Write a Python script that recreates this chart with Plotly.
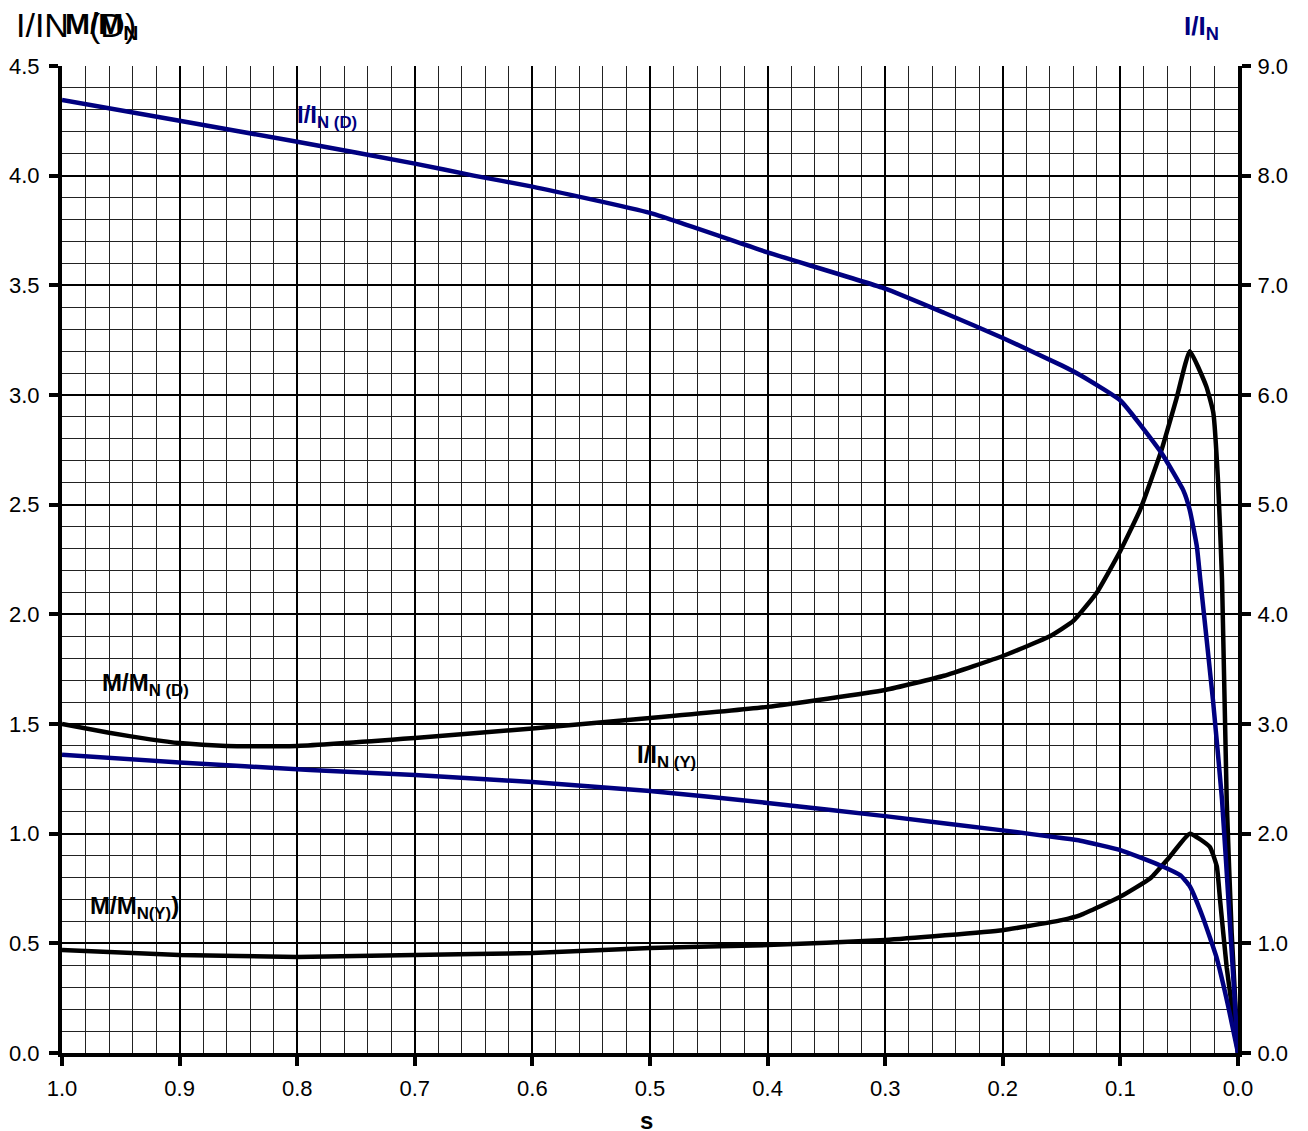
import plotly.graph_objects as go

# ---- data ----
s_md = [1.0, 0.96, 0.925, 0.9, 0.86, 0.8, 0.7, 0.6, 0.5, 0.4, 0.3, 0.25, 0.2, 0.16, 0.14, 0.12, 0.1, 0.083, 0.065, 0.052, 0.041, 0.027, 0.021, 0.017, 0.0136, 0.0096, 0.0054, 0.0]
m_md = [1.50, 1.46, 1.43, 1.413, 1.40, 1.40, 1.436, 1.48, 1.527, 1.578, 1.655, 1.72, 1.81, 1.90, 1.97, 2.10, 2.29, 2.48, 2.75, 2.99, 3.20, 3.04, 2.92, 2.61, 2.16, 1.15, 0.55, 0.0]

s_my = [1.0, 0.9, 0.8, 0.7, 0.6, 0.5, 0.4, 0.3, 0.2, 0.15, 0.134, 0.1, 0.0745, 0.058, 0.041, 0.024, 0.018, 0.0153, 0.0096, 0.0]
m_my = [0.47, 0.447, 0.438, 0.447, 0.456, 0.479, 0.492, 0.515, 0.56, 0.606, 0.629, 0.713, 0.797, 0.895, 1.0, 0.94, 0.85, 0.70, 0.39, 0.0]

s_id = [1.0, 0.9, 0.8, 0.7, 0.65, 0.6, 0.5, 0.4, 0.3, 0.25, 0.2, 0.15, 0.134, 0.1, 0.065, 0.0465, 0.041, 0.035, 0.032, 0.0213, 0.0136, 0.007, 0.0]
i_id = [8.69, 8.50, 8.31, 8.11, 8.0, 7.90, 7.66, 7.30, 6.97, 6.75, 6.52, 6.27, 6.18, 5.95, 5.47, 5.13, 4.95, 4.62, 4.31, 3.22, 2.31, 1.2, 0.0]

s_iy = [1.0, 0.9, 0.789, 0.7, 0.6, 0.5, 0.4, 0.3, 0.2, 0.15, 0.134, 0.1, 0.066, 0.049, 0.041, 0.030, 0.0185, 0.0082, 0.0]
i_iy = [2.72, 2.65, 2.58, 2.535, 2.47, 2.39, 2.28, 2.16, 2.03, 1.96, 1.936, 1.85, 1.71, 1.62, 1.52, 1.24, 0.88, 0.42, 0.0]

x_ticks = [1.0, 0.9, 0.8, 0.7, 0.6, 0.5, 0.4, 0.3, 0.2, 0.1, 0.0]

NAVY = "#000080"
FONT = "Liberation Sans, Arial, sans-serif"
LW = 4.5

fig = go.Figure()
line_k = dict(color="black", width=LW, shape="spline", smoothing=0.4)
line_b = dict(color=NAVY, width=LW, shape="spline", smoothing=0.4)
fig.add_trace(go.Scatter(x=s_md, y=m_md, mode="lines", line=line_k, yaxis="y", showlegend=False))
fig.add_trace(go.Scatter(x=s_my, y=m_my, mode="lines", line=line_k, yaxis="y", showlegend=False))
fig.add_trace(go.Scatter(x=s_id, y=i_id, mode="lines", line=line_b, yaxis="y2", showlegend=False))
fig.add_trace(go.Scatter(x=s_iy, y=i_iy, mode="lines", line=line_b, yaxis="y2", showlegend=False))

fig.update_layout(
    width=1308, height=1131,
    margin=dict(l=54, r=78, t=58, b=86),
    paper_bgcolor="white", plot_bgcolor="white",
    font=dict(family=FONT, color="black", size=22),
    xaxis=dict(range=[1.0, 0.0], tickvals=x_ticks, tickformat=".1f", automargin=False,
               showgrid=True, gridcolor="black", gridwidth=2,
               minor=dict(dtick=0.02, showgrid=True, gridcolor="#222222", gridwidth=1, ticks=""),
               showline=True, linecolor="black", linewidth=4, mirror=False,
               ticks="outside", ticklen=9, tickwidth=4, tickcolor="black",
               ticklabelstandoff=4, zeroline=False),
    yaxis=dict(range=[0, 4.5], dtick=0.5, tickformat=".1f", automargin=False,
               showgrid=True, gridcolor="black", gridwidth=2,
               minor=dict(dtick=0.1, showgrid=True, gridcolor="#222222", gridwidth=1, ticks=""),
               showline=True, linecolor="black", linewidth=4,
               ticks="outside", ticklen=9, tickwidth=4, tickcolor="black",
               ticklabelstandoff=5, zeroline=False),
    yaxis2=dict(range=[0, 9.0], dtick=1.0, tickformat=".1f", overlaying="y", side="right", automargin=False,
                showgrid=False, showline=True, linecolor="black", linewidth=4,
                ticks="outside", ticklen=9, tickwidth=4, tickcolor="black",
                ticklabelstandoff=2, zeroline=False),
)

# x-axis title
fig.add_annotation(xref="paper", yref="paper", x=0.497, y=-0.068, xanchor="center", yanchor="middle",
                   text="<b>s</b>", showarrow=False, font=dict(size=24, color="black"))

# top-left overlapping axis titles
fig.add_annotation(xref="paper", yref="paper", x=-0.0408, y=1.0415, xanchor="left", yanchor="middle",
                   text="I/IN", showarrow=False, font=dict(size=34, color="black"))
fig.add_annotation(xref="paper", yref="paper", x=0.0009, y=1.0415, xanchor="left", yanchor="middle",
                   text="<b>M/M<sub>N</sub></b>", showarrow=False, font=dict(size=30, color="black"))
fig.add_annotation(xref="paper", yref="paper", x=0.0213, y=1.0415, xanchor="left", yanchor="middle",
                   text="(D)", showarrow=False, font=dict(size=34, color="black"))
# top-right axis title
fig.add_annotation(xref="paper", yref="paper", x=0.969, y=1.0395, xanchor="center", yanchor="middle",
                   text="<b>I/I<sub>N</sub></b>", showarrow=False, font=dict(size=26, color=NAVY))

# curve labels
fig.add_annotation(x=0.802, y=4.27, xref="x", yref="y", xanchor="left", yanchor="middle",
                   text="<b>I/I<sub>N (D)</sub></b>", showarrow=False, font=dict(size=24, color=NAVY))
fig.add_annotation(x=0.968, y=1.68, xref="x", yref="y", xanchor="left", yanchor="middle",
                   text="<b>M/M<sub>N (D)</sub></b>", showarrow=False, font=dict(size=24, color="black"))
fig.add_annotation(x=0.513, y=1.35, xref="x", yref="y", xanchor="left", yanchor="middle",
                   text="<b>I/I<sub>N (Y)</sub></b>", showarrow=False, font=dict(size=24, color="black"))
fig.add_annotation(x=0.978, y=0.665, xref="x", yref="y", xanchor="left", yanchor="middle",
                   text="<b>M/M<sub>N(Y)</sub>)</b>", showarrow=False, font=dict(size=24, color="black"))

fig.write_html("out.html")
